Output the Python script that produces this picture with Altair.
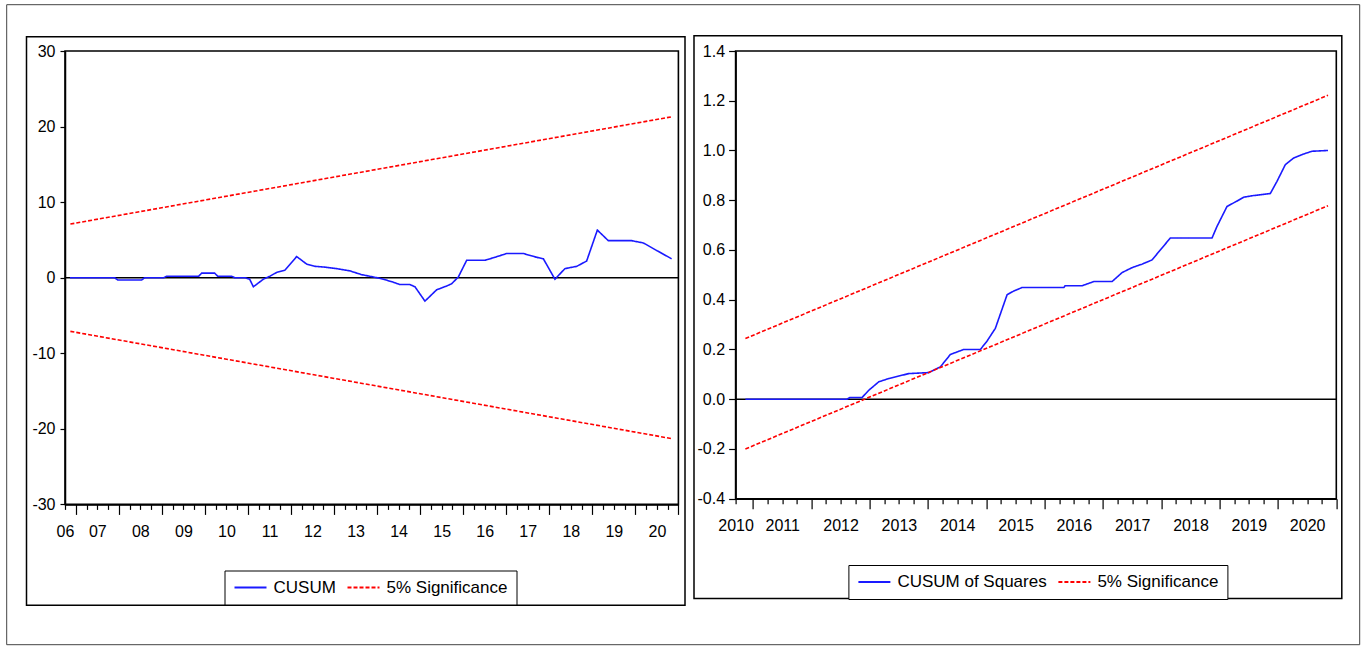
import altair as alt
import pandas as pd

# ---------------- data ----------------
# Left panel: CUSUM (time in decimal years)
L_T = [2006.866, 2007.904, 2007.974, 2008.532, 2008.601, 2009.043, 2009.112, 2009.856,
       2009.925, 2010.227, 2010.297, 2010.622, 2010.692, 2010.931, 2011.040, 2011.126,
       2011.358, 2011.512, 2011.667, 2011.860, 2012.132, 2012.364, 2012.557, 2012.789,
       2013.061, 2013.370, 2013.642, 2013.914, 2014.146, 2014.378, 2014.525, 2014.757,
       2014.880, 2015.112, 2015.384, 2015.616, 2015.732, 2015.888, 2016.081, 2016.506,
       2016.738, 2017.010, 2017.398, 2017.707, 2017.863, 2018.132, 2018.364, 2018.636,
       2018.868, 2019.117, 2019.372, 2019.914, 2020.186, 2020.495, 2020.843]
L_CUSUM = [0, 0, -0.3, -0.3, 0, 0, 0.2, 0.2, 0.6, 0.6, 0.2, 0.2, 0, 0, -0.2, -1.2,
           -0.2, 0.2, 0.7, 1.0, 2.8, 1.8, 1.5, 1.4, 1.2, 0.9, 0.4, 0.1, -0.2, -0.6,
           -0.9, -0.9, -1.2, -3.1, -1.6, -1.1, -0.8, 0.1, 2.3, 2.3, 2.7, 3.2, 3.2,
           2.7, 2.5, -0.2, 1.2, 1.5, 2.2, 6.3, 4.9, 4.9, 4.6, 3.6, 2.5]
L_BOUND_T = [2006.875, 2020.85]
L_UPPER = [7.1, 21.3]
L_LOWER = [-7.1, -21.3]
L_YTICKS = [-30, -20, -10, 0, 10, 20, 30]
L_XDOMAIN = [2006.75, 2021.0]
L_SERIES = ["CUSUM", "5% Significance"]

# Right panel: CUSUM of Squares
R_T = [2010.868, 2012.612, 2012.663, 2012.869, 2012.984, 2013.155, 2013.326, 2013.498,
       2013.669, 2014.012, 2014.098, 2014.211, 2014.383, 2014.612, 2014.897, 2015.012,
       2015.154, 2015.355, 2015.469, 2015.612, 2016.327, 2016.350, 2016.640, 2016.841,
       2017.155, 2017.326, 2017.498, 2017.669, 2017.840, 2018.154, 2018.869, 2018.955,
       2019.126, 2019.268, 2019.412, 2019.555, 2019.869, 2019.983, 2020.126, 2020.270,
       2020.441, 2020.583, 2020.858]
R_CUSUMSQ = [0, 0, 0.007, 0.007, 0.036, 0.07, 0.083, 0.093, 0.103, 0.107, 0.117, 0.13,
             0.18, 0.2, 0.2, 0.234, 0.285, 0.42, 0.435, 0.449, 0.449, 0.456, 0.456, 0.473,
             0.473, 0.509, 0.529, 0.543, 0.56, 0.648, 0.648, 0.695, 0.775, 0.793, 0.812,
             0.818, 0.827, 0.876, 0.943, 0.97, 0.986, 0.997, 1.0]
R_BOUND_T = [2010.868, 2020.858]
R_UPPER = [0.244, 1.222]
R_LOWER = [-0.2, 0.778]
R_YTICKS = [-0.4, -0.2, 0.0, 0.2, 0.4, 0.6, 0.8, 1.0, 1.2, 1.4]
R_XDOMAIN = [2010.7, 2021.0]
R_SERIES = ["CUSUM of Squares", "5% Significance"]

# quarterly tick positions
L_XTICKS = [2006.75 + 0.25 * i for i in range(58)]
R_XTICKS = [2010.7] + [2011.0 + 0.25 * i for i in range(41)]

FONT = "Liberation Sans"
BLUE = "#1a1aff"
RED = "#ff0000"


def long_df(t, v, bt, up, lo, names):
    rows = []
    for a, b in zip(t, v):
        rows.append({"t": a, "v": b, "series": names[0], "part": "main"})
    for a, b in zip(bt, up):
        rows.append({"t": a, "v": b, "series": names[1], "part": "upper"})
    for a, b in zip(bt, lo):
        rows.append({"t": a, "v": b, "series": names[1], "part": "lower"})
    return pd.DataFrame(rows)


def panel(df, names, xdom, xticks, xlabel_expr, ydom, yticks, ylabel_expr,
          width, height, ytick, ypad, legend_xy, frames):
    x = alt.X("t:Q",
              scale=alt.Scale(domain=xdom, nice=False, zero=False),
              axis=alt.Axis(values=xticks, labelExpr=xlabel_expr, title=None,
                            tickSize={"condition": {"test": "datum.value % 1 == 0", "value": 10}, "value": 5},
                            labelPadding=14, labelOverlap=False, labelFlush=False,
                            labelBound=False, grid=False))
    y = alt.Y("v:Q",
              scale=alt.Scale(domain=ydom, nice=False, zero=False),
              axis=alt.Axis(values=yticks, labelExpr=ylabel_expr, title=None,
                            tickSize=ytick, labelPadding=ypad, grid=False,
                            labelOverlap=False, labelFlush=False))
    leg = alt.Legend(orient="none", legendX=legend_xy[0], legendY=legend_xy[1],
                     direction="horizontal", columns=2, title=None,
                     symbolType="stroke", symbolSize=1024, symbolStrokeWidth=2,
                     clipHeight=16,
                     labelFont=FONT, labelFontSize=17, labelColor="black",
                     strokeColor="black", fillColor="white", padding=9,
                     columnPadding=10, labelOffset=6)
    lines = alt.Chart(df).mark_line(strokeWidth=1.6).encode(
        x=x, y=y,
        color=alt.Color("series:N", scale=alt.Scale(domain=names, range=[BLUE, RED]), legend=leg),
        strokeDash=alt.StrokeDash("series:N", scale=alt.Scale(domain=names, range=[[1, 0], [4, 2]]), legend=leg),
        detail="part:N",
        order=alt.Order("t:Q"),
    )
    zero = alt.Chart(pd.DataFrame({"z": [0]})).mark_rule(color="black", strokeWidth=1.6).encode(
        y=alt.Y("z:Q")
    )
    layers = [zero, lines]
    fdf = pd.DataFrame({"k": [0]})
    for (x1, x2, y1, y2, col, sw) in frames:
        layers.append(
            alt.Chart(fdf).mark_rect(fillOpacity=0, stroke=col, strokeWidth=sw).encode(
                x=alt.value(x1), x2=alt.value(x2), y=alt.value(y1), y2=alt.value(y2)
            )
        )
    return alt.layer(*layers).properties(width=width, height=height)


left_df = long_df(L_T, L_CUSUM, L_BOUND_T, L_UPPER, L_LOWER, L_SERIES)
right_df = long_df(R_T, R_CUSUMSQ, R_BOUND_T, R_UPPER, R_LOWER, R_SERIES)

L_XLAB = ("datum.value == 2006.75 ? '06' : (datum.value % 1 == 0.5 ? "
          "substring(toString(floor(datum.value)), 2, 4) : '')")
R_XLAB = ("datum.value == 2010.7 ? '2010' : (datum.value % 1 == 0.5 ? "
          "toString(floor(datum.value)) : '')")
L_YLAB = "toString(datum.value)"
R_YLAB = "(datum.value < 0 ? '-' : '') + format(abs(datum.value), '.1f')"

left = panel(left_df, L_SERIES, L_XDOMAIN, L_XTICKS, L_XLAB, [-30, 30], L_YTICKS, L_YLAB,
             613.4, 453.4, 5, 5, (159.5, 519.5),
             [(-58.3, 1294.7, -46.3, 593.7, "#444444", 1),
              (-38.5, 620.0, -14.3, 554.2, "black", 1.5)])
right = panel(right_df, R_SERIES, R_XDOMAIN, R_XTICKS, R_XLAB, [-0.4, 1.4], R_YTICKS, R_YLAB,
              600.7, 447.7, 7, 4, (112.8, 514.0),
              [(-41.6, 606.2, -15.3, 547.6, "black", 1.5)])

chart = alt.hconcat(left, right, spacing=56.6, bounds="flush").resolve_scale(
    x="independent", y="independent", color="independent", strokeDash="independent"
).resolve_legend(color="independent", strokeDash="independent").properties(
    padding={"left": 5, "top": 3, "right": 0, "bottom": 0},
    background="white",
).configure_axis(
    labelFont=FONT, labelFontSize=16, labelColor="black",
    domainColor="black", domainWidth=1.5, tickColor="black", tickWidth=1.2,
).configure_view(stroke="black", strokeWidth=1.6)

chart.save("out.html", embed_options={"renderer": "svg", "actions": False})
